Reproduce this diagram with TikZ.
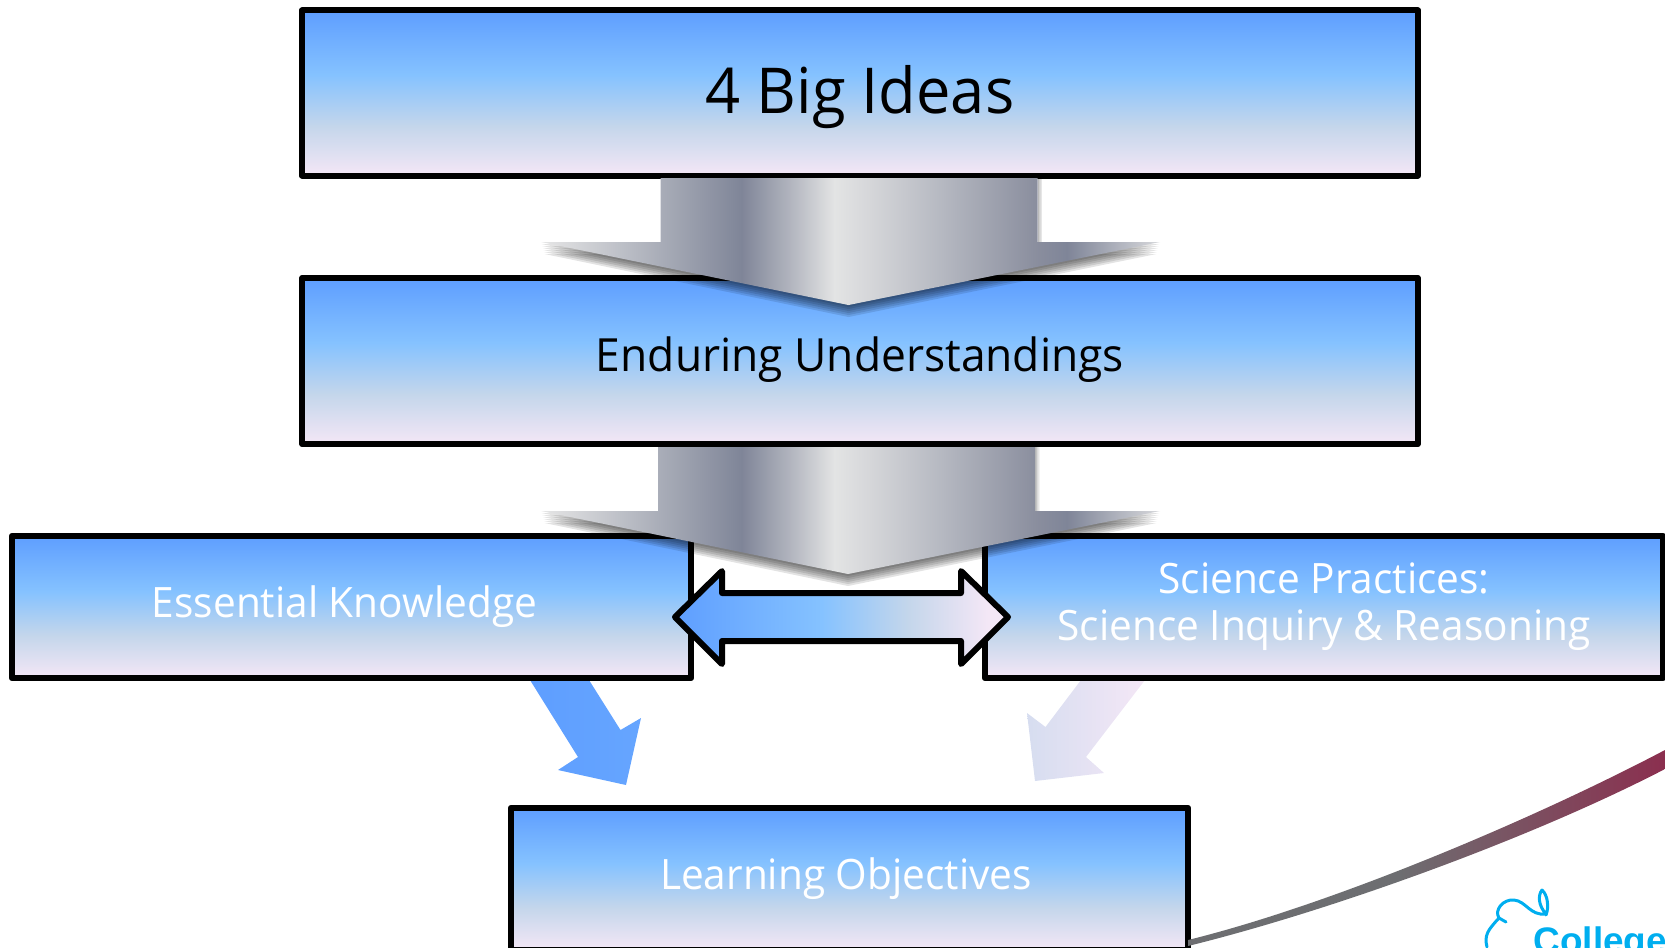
\documentclass[tikz,border=0pt]{standalone}
\usepackage{fontspec}
\setmainfont[FakeStretch=0.97]{Open Sans}
\newfontfamily\logofont{Liberation Sans}
\usetikzlibrary{calc}

\definecolor{dayA}{HTML}{5E9EFF}
\definecolor{dayB}{HTML}{85C2FF}
\definecolor{dayC}{HTML}{C4D6EB}
\definecolor{dayD}{HTML}{F4E7F6}
\definecolor{paleL}{HTML}{D6DDF0}
\definecolor{logoblue}{HTML}{00AEEF}
\definecolor{metalA}{HTML}{E6E6E6}
\definecolor{metalB}{HTML}{A9ADB8}
\definecolor{metalC}{HTML}{7F8598}
\definecolor{metalD}{HTML}{B0B3BD}
\definecolor{metalE}{HTML}{E3E4E4}
\definecolor{metalF}{HTML}{D5D6D9}
\definecolor{metalG}{HTML}{B4B7C0}
\definecolor{metalH}{HTML}{8A8E9E}
\definecolor{metalI}{HTML}{D8D9DC}
\definecolor{swooshA}{HTML}{6D6E71}
\definecolor{swooshB}{HTML}{8B2F4F}

% bluebox fill, top to bottom
\pgfdeclareverticalshading{daybreak}{100bp}{
  color(0bp)=(dayD); color(25bp)=(dayD); color(40bp)=(dayC);
  color(55.5bp)=(dayB); color(75bp)=(dayA); color(100bp)=(dayA)}
% same colours, left to right
\pgfdeclarehorizontalshading{daybreakh}{100bp}{
  color(0bp)=(dayA); color(25bp)=(dayA); color(47bp)=(dayB);
  color(60bp)=(dayC); color(72bp)=(dayD); color(100bp)=(dayD)}
% metallic fill of the two big arrows
\pgfdeclarehorizontalshading{metal}{100bp}{
  color(0bp)=(metalA); color(25bp)=(metalA); color(34.6bp)=(metalB);
  color(41.2bp)=(metalC); color(45bp)=(metalD); color(48.7bp)=(metalE);
  color(51.6bp)=(metalF); color(57.6bp)=(metalG); color(65bp)=(metalH);
  color(67.5bp)=(metalC); color(75bp)=(metalI); color(100bp)=(metalI)}
% thin swoosh at the lower right
\pgfdeclarehorizontalshading{swoosh}{100bp}{
  color(0bp)=(swooshA); color(47bp)=(swooshA);
  color(75bp)=(swooshB); color(100bp)=(swooshB)}

\begin{document}
\begin{tikzpicture}[x=0.01cm,y=-0.01cm]
% ---------------------------------------------------------
% Styles
% ---------------------------------------------------------
\tikzset{
  bluebox/.style={shade, shading=daybreak, draw=black, line width=0.06cm,
    line join=round, inner sep=0pt, align=center},
  big text/.style={font=\fontsize{18}{21}\selectfont, text=black},
  black text/.style={font=\fontsize{13}{15}\selectfont, text=black},
  white text/.style={font=\fontsize{11.9}{13.4}\selectfont, text=white},
  metal arrow/.style={shade, shading=metal},
  two way/.style={shade, shading=daybreakh, draw=black, line width=0.06cm, line join=round}
}
\useasboundingbox (0,0) rectangle (1665,947);
\clip (0,0) rectangle (1665,947);

% =========================================================
% 1) SMALL ARROWS (under the boxes)
% =========================================================
\shade[left color=dayA, right color=dayA!80!dayB]
  (530,680) -- (589,680) -- (620.5,730) -- (641,718) -- (626,785) -- (558,770) -- (578,757) -- cycle;
\shade[left color=paleL, right color=dayD]
  (1081,680) -- (1145,680) -- (1086,757) -- (1104,773) -- (1035,781) -- (1027,713) -- (1045.5,727) -- cycle;

% =========================================================
% 2) BOXES
% =========================================================
\node[bluebox, big text, minimum width=11.15cm, minimum height=1.65cm, text height=0.56cm, text depth=0.16cm]
  (bigideas) at (860,93) {4 Big Ideas};
\node[bluebox, black text, minimum width=11.15cm, minimum height=1.66cm, text height=0.35cm, text depth=0.15cm]
  (enduring) at (860,361) {Enduring Understandings};
\node[bluebox, white text, minimum width=6.79cm, minimum height=1.42cm]
  (essential) at (351.5,607) {Essential Knowledge\hspace*{0.14cm}};
\node[bluebox, white text, minimum width=6.78cm, minimum height=1.42cm]
  (practices) at (1324,607) {Science Practices:\\Science Inquiry \& Reasoning};
\node[bluebox, white text, minimum width=6.77cm, minimum height=1.42cm]
  (objectives) at (849.5,879) {Learning Objectives\hspace*{0.07cm}};

% =========================================================
% 3) BIG ARROWS (soft shadow first, then the metal)
% =========================================================
\foreach \topY/\ShaftL/\ShaftR/\TipX in {178/660.5/1037.5/848.5, 447/658/1035/848} {
  \pgfmathsetmacro{\NeckY}{\topY+64}
  \pgfmathsetmacro{\TipY}{\topY+127}
  \foreach \s in {2,4,...,12} {
    \fill[black, opacity=0.11]
      ($(541,\NeckY)+(\s*0.3,\s)$) -- ($(\TipX,\TipY)+(0,\s)$) -- ($(1160,\NeckY)+(-\s*0.3,\s)$) -- cycle;
    \fill[black, opacity=0.05]
      (\ShaftR,\topY) rectangle ($(\ShaftR,\NeckY)+(\s*0.4,0)$);
  }
  \path[metal arrow] (\ShaftL,\topY) -- (\ShaftR,\topY) -- (\ShaftR,\NeckY) -- (1160,\NeckY)
    -- (\TipX,\TipY) -- (541,\NeckY) -- (\ShaftL,\NeckY) -- cycle;
}

% =========================================================
% 4) TWO WAY ARROW
% =========================================================
\path[two way] (675,617) -- (722,571) -- (722,593) -- (961,593) -- (961,571) -- (1008,617)
  -- (961,664) -- (961,641) -- (722,641) -- (722,664) -- cycle;

% =========================================================
% 5) SWOOSH AND LOGO
% =========================================================
\path[shade, shading=swoosh] (1188,940) .. controls (1330,905) and (1530,821) .. (1665,750)
  -- (1665,769) .. controls (1530,839) and (1330,911) .. (1188,946) -- cycle;

\draw[logoblue, line width=0.03cm, line cap=round, line join=round]
  (1487,947) .. controls (1484,935) and (1488,930) .. (1499,918)
  .. controls (1494,910) and (1503,899) .. (1514,900)
  .. controls (1526,901) and (1530,916) .. (1546,914)
  .. controls (1538,905) and (1538,895) .. (1542,890)
  .. controls (1548,895) and (1549,908) .. (1546,915);
\draw[logoblue, line width=0.03cm, line cap=round] (1499,918) -- (1506,922);
\node[text=logoblue, anchor=base west, inner sep=0pt, font=\logofont\bfseries\fontsize{10.5}{12}\selectfont]
  (college) at (1533,953) {College};

\end{tikzpicture}
\end{document}
